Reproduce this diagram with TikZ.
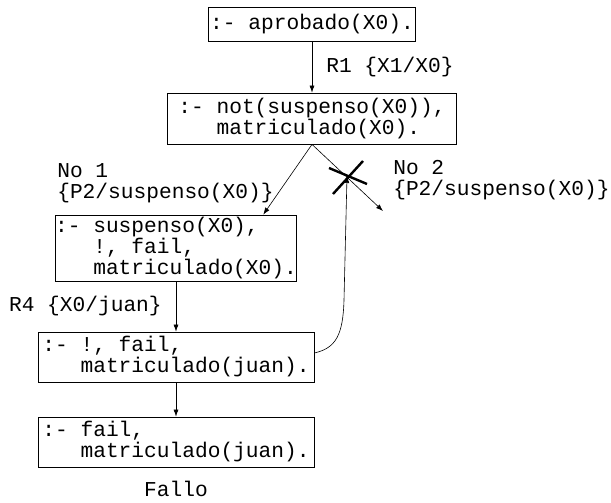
\documentclass[tikz,border=0pt]{standalone}
\usepackage{fontspec}
\setmainfont{Liberation Mono}
\usetikzlibrary{positioning,calc,arrows.meta}

\newcommand{\ind}{\hphantom{:-x}}
\tikzset{
    goal/.style={draw, line width=0.8pt, align=left, inner xsep=0pt, inner ysep=0pt},
    lbl/.style={inner sep=0pt, align=left},
    cross/.style={line width=2.4pt}
}

\begin{document}
\begin{tikzpicture}[x=1pt, y=-1pt, line width=0.6pt,
    font=\fontsize{21.2}{21}\selectfont, >={Latex[length=7pt,width=5pt]}]
    \useasboundingbox (0,0) rectangle (611,503);

    % Goals
    \node[goal, minimum width=207pt, minimum height=34pt] (aprobado) at (312,24) {:- aprobado(X0).};
    \node[goal, minimum width=289pt, minimum height=51pt] (notsusp) at (312,118.5) {:- not(suspenso(X0)),\\\ind matriculado(X0).};
    \node[goal, minimum width=238pt, minimum height=66pt] (susp) at (176,248) {:- suspenso(X0),\\\ind !, fail,\\\ind matriculado(X0).};
    \node[goal, minimum width=276pt, minimum height=50pt] (cutfail) at (176,357) {:- !, fail,\\\ind matriculado(juan).};
    \node[goal, minimum width=276pt, minimum height=50pt] (fail) at (176,442) {:- fail,\\\ind matriculado(juan).};
    \node[lbl] (fallo) at (176,489) {Fallo};

    % Resolution steps
    \draw[->] (aprobado) -- node[lbl, right=14pt] (r1) {R1 \{X1/X0\}} (notsusp);
    \draw[->] (notsusp.south) -- ($(susp.north east)+(-34,0)$);
    \node[lbl, anchor=west] (no1) at (57,183) {No 1\\\{P2/suspenso(X0)\}};

    \coordinate (no2end) at (383,211);
    \draw[->] (notsusp.south) -- (no2end);
    \node[lbl, anchor=west] (no2) at (393,180) {No 2\\\{P2/suspenso(X0)\}};

    \draw[->] (susp) -- node[lbl, left=14pt] (r4) {R4 \{X0/juan\}} (cutfail);
    \draw[->] (cutfail) -- (fail);

    % Cut prunes the second branch
    \coordinate (cut) at (347,176);
    \draw[cross] ($(cut)+(-18,-8)$) -- ($(cut)+(20,8)$);
    \draw[cross] ($(cut)+(16,-15)$) -- ($(cut)+(-14,18)$);
    \draw[->] ($(cutfail.east)+(0,-4)$) .. controls (336,348) and (343,335) .. (344,300) -- (cut);
\end{tikzpicture}
\end{document}
